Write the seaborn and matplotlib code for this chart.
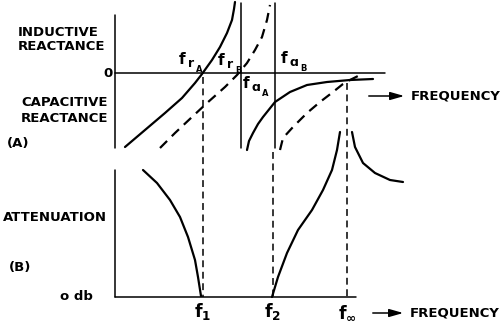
import matplotlib
matplotlib.use("Agg")
import matplotlib.pyplot as plt
import seaborn as sns
import pandas as pd

sns.set_theme(style="white")
plt.rcParams['font.family'] = ['DejaVu Sans']
plt.rcParams['mathtext.fontset'] = 'dejavusans'

# ---- data (figure units: x = frequency position, y = drawing position, 0 at top) ----
# Panel A reactance curves
fa_sol1_x = [125, 145, 165, 182, 195, 202, 212, 220, 227, 232, 234, 235]
fa_sol1_y = [147, 130, 113, 98, 83, 74, 60, 47, 33, 20, 9, 2]
fa_dash1_x = [160, 175, 192, 207, 225, 237, 247, 255, 262, 267, 270]
fa_dash1_y = [148, 133, 117, 103, 87, 75, 63, 50, 37, 20, 5]
fa_sol2_x = [247, 249, 253, 258, 263, 275, 290, 307, 327, 350, 373]
fa_sol2_y = [150, 141, 133, 124, 117, 102, 92, 85, 82, 80, 79]
fa_dash2_x = [280, 283, 293, 307, 320, 333, 343, 350, 360]
fa_dash2_y = [150, 138, 127, 113, 102, 92, 84, 80, 75]
# Panel B attenuation curves
att1_x = [143, 157, 170, 180, 188, 195, 198, 201]
att1_y = [170, 183, 200, 217, 237, 260, 277, 296]
att2_x = [272, 278, 287, 298, 312, 323, 332, 337, 340]
att2_y = [297, 277, 253, 230, 210, 190, 170, 150, 132]
att3_x = [352, 355, 363, 375, 390, 403]
att3_y = [132, 147, 163, 173, 180, 182]
# key frequencies
f_aA, f_aB, f_inf = 241, 275, 347
f1, f2 = 203, 273
# frequency labels: (x of "f", y, sub, subsub, sub offset, subsub offset)
freq_labels = [(182, 59, 'r', 'A', 9, 17), (221, 60, 'r', 'B', 9, 17),
               (246, 83, '\u0251', 'A', 10, 19), (284, 58, '\u0251', 'B', 10, 19)]

fig = plt.figure(figsize=(5.03, 3.22), dpi=100)
ax = fig.add_axes([0, 0, 1, 1])
ax.set_xlim(0, 503)
ax.set_ylim(322, 0)
ax.axis('off')

K = 'black'
DL = (0, (4.5, 3))
def curve(xs, ys, dashed=False, lw=1.6):
    df = pd.DataFrame({'x': xs, 'y': ys})
    sns.lineplot(data=df, x='x', y='y', ax=ax, sort=False, estimator=None,
                 color=K, lw=lw, linestyle=DL if dashed else '-')

# Panel A frame
ax.plot([115, 115], [15, 148], color=K, lw=1.1)
ax.plot([115, 385], [73, 73], color=K, lw=1.1)
ax.plot([f_aA, f_aA], [3, 148], color=K, lw=1.1)
ax.plot([f_aB, f_aB], [3, 148], color=K, lw=1.1)

curve(fa_sol1_x, fa_sol1_y)
curve(fa_dash1_x, fa_dash1_y, dashed=True)
curve(fa_sol2_x, fa_sol2_y)
curve(fa_dash2_x, fa_dash2_y, dashed=True)

# vertical dashed projection lines
ax.plot([f1, f1], [77, 297], color=K, lw=1.1, linestyle=DL)
ax.plot([f2, f2], [152, 297], color=K, lw=1.1, linestyle=DL)
ax.plot([f_inf, f_inf], [83, 297], color=K, lw=1.1, linestyle=DL)

# Panel B frame
ax.plot([115, 115], [170, 297], color=K, lw=1.1)
ax.plot([115, 356], [297, 297], color=K, lw=1.1)
curve(att1_x, att1_y)
curve(att2_x, att2_y)
curve(att3_x, att3_y)

fs = 9.5
tk = dict(color=K, fontsize=fs, fontweight='bold', ha='center', va='center')
ax.text(58, 32, 'INDUCTIVE', **tk)
ax.text(62, 46, 'REACTANCE', **tk)
ax.text(108, 73, '0', **tk)
ax.text(65, 102, 'CAPACITIVE', **tk)
ax.text(65, 118, 'REACTANCE', **tk)
ax.text(18, 143, '(A)', **tk)
ax.text(55, 217, 'ATTENUATION', **tk)
ax.text(20, 268, '(B)', **tk)
ax.text(76, 296, 'o db', **tk)

for (x, y, s1, s2, o1, o2) in freq_labels:
    ax.text(x, y, 'f', color=K, fontsize=11, fontweight='semibold', ha='center', va='center')
    ax.text(x + o1, y + 4, s1, color=K, fontsize=9, fontweight='semibold', ha='center', va='center')
    ax.text(x + o2, y + 10, s2, color=K, fontsize=6, fontweight='bold', ha='center', va='center')

ms = 12.5
ax.text(f1, 312, r'$\mathbf{f_1}$', color=K, fontsize=ms, ha='center', va='center')
ax.text(f2, 312, r'$\mathbf{f_2}$', color=K, fontsize=ms, ha='center', va='center')
ax.text(f_inf, 312, r'$\mathbf{f_\infty}$', color=K, fontsize=ms, ha='center', va='center')

for (x0, x1, y, tx) in [(366, 407, 96, 411), (370, 406, 313, 410)]:
    ax.annotate('', xy=(x1, y), xytext=(x0, y),
                arrowprops=dict(arrowstyle='-|>,head_length=0.7,head_width=0.2', color=K, lw=1.1))
    ax.text(tx, y, 'FREQUENCY', color=K, fontsize=fs, fontweight='bold', ha='left', va='center')

fig.savefig('out.png', dpi=100)
